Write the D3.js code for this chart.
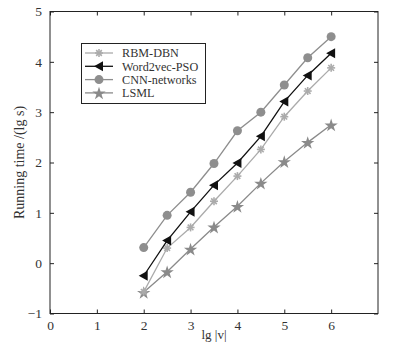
<!DOCTYPE html>
<html><head><meta charset="utf-8">
<script src="https://cdn.jsdelivr.net/npm/d3@7/dist/d3.min.js"></script>
<style>body{margin:0;background:#fff}svg{display:block}</style>
</head><body>
<svg id="c" width="405" height="346"></svg>
<script>
const xValues = [2, 2.5, 3, 3.5, 4, 4.5, 5, 5.5, 6];
const rbmDbn = [-0.57, 0.30, 0.71, 1.23, 1.73, 2.26, 2.91, 3.42, 3.88];
const word2vecPso = [-0.25, 0.45, 1.02, 1.55, 1.99, 2.52, 3.21, 3.73, 4.17];
const cnnNetworks = [0.31, 0.95, 1.41, 1.98, 2.63, 3.00, 3.54, 4.08, 4.50];
const lsml = [-0.58, -0.17, 0.28, 0.72, 1.13, 1.59, 2.02, 2.40, 2.75];
const seriesNames = ["RBM-DBN", "Word2vec-PSO", "CNN-networks", "LSML"];
const xTicks = [0, 1, 2, 3, 4, 5, 6];
const yTicks = [-1, 0, 1, 2, 3, 4, 5];

const svg = d3.select("#c");
const L = 50, R = 378, T = 11.5, B = 313.5;
const x = d3.scaleLinear().domain([0, 7]).range([L, R]);
const y = d3.scaleLinear().domain([-1, 5]).range([B, T]);
const font = "'Liberation Serif','Times New Roman',serif";
const tickColor = "#333";

// axes (ticks inward on all sides)
const ax = svg.append("g");
ax.append("g").attr("transform", `translate(0,${B})`)
  .call(d3.axisBottom(x).tickValues(xTicks).tickSizeInner(-4).tickSizeOuter(0).tickPadding(7)
    .tickFormat(d3.format("d")));
ax.append("g").attr("transform", `translate(0,${T})`)
  .call(d3.axisTop(x).tickValues(xTicks).tickSizeInner(-4).tickSizeOuter(0).tickFormat(""));
ax.append("g").attr("transform", `translate(${L},0)`)
  .call(d3.axisLeft(y).tickValues(yTicks).tickSizeInner(-4).tickSizeOuter(0).tickPadding(8)
    .tickFormat(d => d < 0 ? "\u2212" + Math.abs(d) : d));
ax.append("g").attr("transform", `translate(${R},0)`)
  .call(d3.axisRight(y).tickValues(yTicks).tickSizeInner(-4).tickSizeOuter(0).tickFormat(""));
ax.selectAll(".domain").remove();
ax.selectAll("line").attr("stroke", "#222");
ax.selectAll("g").attr("font-family", font).attr("font-size", 13.5);
ax.selectAll("text").attr("fill", tickColor);
svg.append("rect").attr("x", L).attr("y", T).attr("width", R - L).attr("height", B - T)
  .attr("fill", "none").attr("stroke", "#222").attr("stroke-width", 1);

// axis titles
svg.append("text").attr("x", (L + R) / 2).attr("y", 339).attr("text-anchor", "middle")
  .attr("font-family", font).attr("font-size", 13).attr("fill", tickColor).text("lg |v|");
svg.append("text").attr("transform", `translate(24,${(T + B) / 2}) rotate(-90)`)
  .attr("text-anchor", "middle").attr("font-family", font).attr("font-size", 14).attr("fill", tickColor)
  .text("Running time /(lg s)");

// marker generators
function asterisk(g, cx, cy, color) {
  const r = 4;
  for (let i = 0; i < 4; i++) {
    const a = i * Math.PI / 4;
    g.append("line").attr("x1", cx - r * Math.cos(a)).attr("y1", cy - r * Math.sin(a))
      .attr("x2", cx + r * Math.cos(a)).attr("y2", cy + r * Math.sin(a))
      .attr("stroke", color).attr("stroke-width", 1.6);
  }
}
function triangle(g, cx, cy, color) {
  const s = 5;
  g.append("path").attr("d", `M${cx - s},${cy} L${cx + s * 0.8},${cy - s} L${cx + s * 0.8},${cy + s} Z`)
    .attr("fill", color);
}
function circle(g, cx, cy, color) {
  g.append("circle").attr("cx", cx).attr("cy", cy).attr("r", 4.5).attr("fill", color);
}
function star(g, cx, cy, color) {
  g.append("path").attr("d", d3.symbol(d3.symbolStar, 55)()).attr("transform", `translate(${cx},${cy + 0.8})`)
    .attr("fill", color);
}

const series = [
  {name: seriesNames[2], data: cnnNetworks, color: "#8e8e8e", marker: circle},
  {name: seriesNames[3], data: lsml, color: "#8a8a8a", marker: star},
  {name: seriesNames[0], data: rbmDbn, color: "#ababab", marker: asterisk},
  {name: seriesNames[1], data: word2vecPso, color: "#111", marker: triangle},
];
const line = d3.line().x((d, i) => x(xValues[i])).y(d => y(d));
series.forEach(s => {
  const g = svg.append("g");
  g.append("path").attr("d", line(s.data)).attr("fill", "none").attr("stroke", s.color).attr("stroke-width", 1.3);
  s.data.forEach((v, i) => s.marker(g, x(xValues[i]), y(v), s.color));
});

// legend
const lg = svg.append("g");
lg.append("rect").attr("x", 81.5).attr("y", 43.5).attr("width", 124).attr("height", 60)
  .attr("fill", "#fff").attr("stroke", "#222");
const legendOrder = [
  {name: seriesNames[0], color: "#ababab", marker: asterisk},
  {name: seriesNames[1], color: "#111", marker: triangle},
  {name: seriesNames[2], color: "#8e8e8e", marker: circle},
  {name: seriesNames[3], color: "#8a8a8a", marker: star},
];
legendOrder.forEach((s, i) => {
  const yy = 53 + i * 13.3;
  lg.append("line").attr("x1", 85).attr("x2", 113).attr("y1", yy).attr("y2", yy)
    .attr("stroke", s.color).attr("stroke-width", 1.3);
  s.marker(lg, 99, yy, s.color);
  lg.append("text").attr("x", 122).attr("y", yy + 4.2).attr("font-family", font).attr("font-size", 12.2)
    .attr("fill", tickColor).text(s.name);
});
</script>
</body></html>
